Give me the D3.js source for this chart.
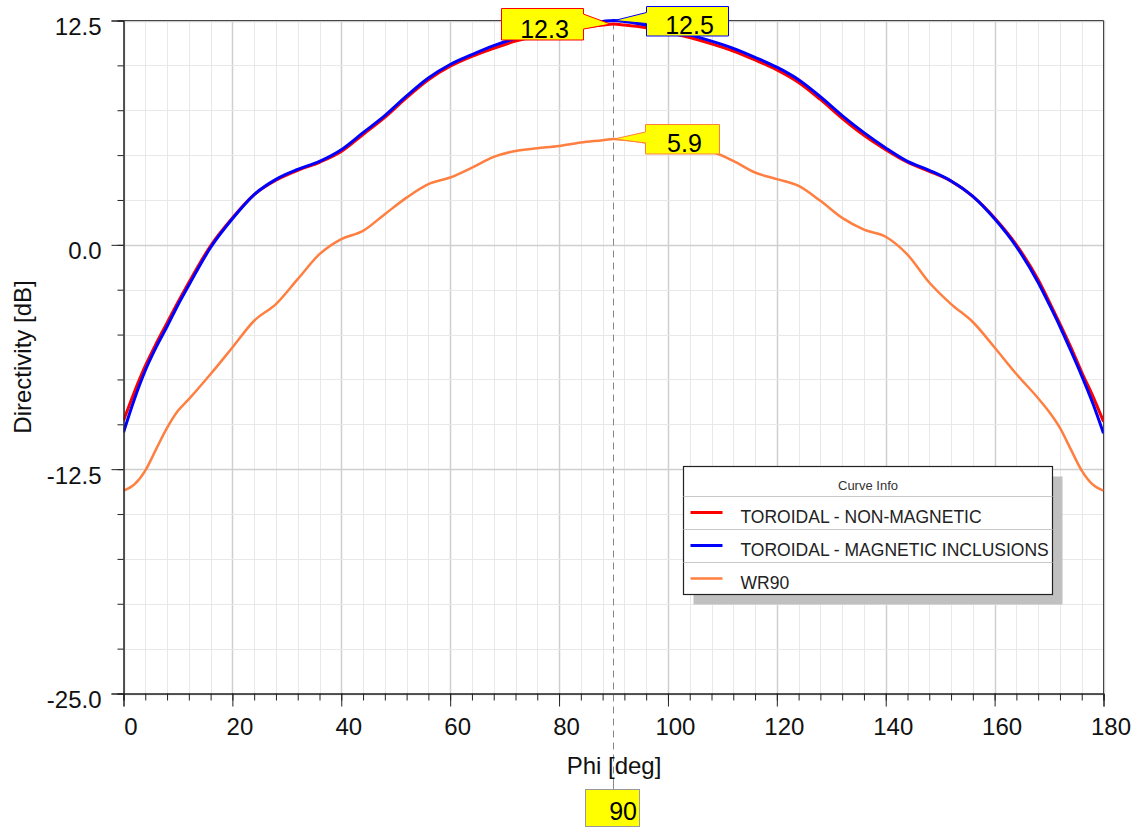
<!DOCTYPE html>
<html>
<head>
<meta charset="utf-8">
<script src="https://cdn.jsdelivr.net/npm/d3@7"></script>
<style>
  body { margin: 0; background: #fff; }
  svg { font-family: Arial, "Liberation Sans", sans-serif; }
</style>
</head>
<body>
<div id="chart"></div>
<script>
// data
const phi = [0, 2, 4, 6, 8, 10, 12, 16, 20, 24, 28, 32, 36, 40, 44, 48, 52, 56, 60, 64, 68, 72, 76, 80, 84, 88, 90,
  92, 96, 100, 104, 108, 112, 116, 120, 124, 128, 132, 136, 140, 144, 148, 152, 156, 160, 164, 168, 170, 172, 174, 176, 178, 180]

const nonMagnetic = [-9.8, -8.2, -6.75, -5.5, -4.35, -3.2, -2.1, -0.05, 1.5, 2.8, 3.6, 4.15, 4.6, 5.2, 6.15, 7.1, 8.2, 9.2, 9.95, 10.5, 10.95, 11.35, 11.65, 11.9, 12.1, 12.25, 12.3,
  12.25, 12.1, 11.85, 11.55, 11.2, 10.8, 10.3, 9.75, 9.05, 8.1, 7.05, 6.1, 5.3, 4.6, 4.1, 3.55, 2.7, 1.5, 0.0, -1.95, -3.15, -4.4, -5.7, -7.1, -8.4, -9.85]

const magnetic = [-10.45, -8.6, -7.0, -5.7, -4.55, -3.35, -2.25, -0.15, 1.45, 2.8, 3.65, 4.2, 4.65, 5.3, 6.25, 7.2, 8.3, 9.3, 10.05, 10.6, 11.1, 11.5, 11.8, 12.05, 12.3, 12.45, 12.5,
  12.45, 12.25, 12.0, 11.7, 11.35, 10.95, 10.45, 9.9, 9.2, 8.25, 7.2, 6.25, 5.4, 4.65, 4.15, 3.56, 2.7, 1.45, -0.1, -2.1, -3.3, -4.55, -5.9, -7.3, -8.8, -10.5]

const wr90 = [-13.7, -13.35, -12.58, -11.38, -10.2, -9.25, -8.6, -7.2, -5.72, -4.23, -3.3, -1.91, -0.52, 0.32, 0.78, 1.71, 2.63, 3.38, 3.75, 4.3, 4.9, 5.23, 5.38, 5.51, 5.7, 5.83, 5.9,
  5.85, 5.7, 5.5, 5.38, 5.2, 4.68, 4.03, 3.66, 3.28, 2.45, 1.5, 0.85, 0.45, -0.55, -2.1, -3.3, -4.3, -5.72, -7.2, -8.55, -9.3, -10.2, -11.4, -12.58, -13.35, -13.7]

const seriesNames = ["TOROIDAL - NON-MAGNETIC", "TOROIDAL - MAGNETIC INCLUSIONS", "WR90"]
const seriesColors = ["#ff0000", "#0000ff", "#ff7f40"]

const yMajorTicks = [12.5, 0, -12.5, -25]
const xMajorTicks = [0, 20, 40, 60, 80, 100, 120, 140, 160, 180]
const markerPhi = 90
const markerLabels = ["12.3", "12.5", "5.9"]

// dimensions
const W = 1146, H = 828
const plot = { left: 123.5, right: 1103.5, top: 20.5, bottom: 693.5 }

const svg = d3.select("#chart").append("svg")
  .attr("width", W)
  .attr("height", H)

const xScale = d3.scaleLinear().domain([0, 180]).range([plot.left, plot.right])
const yScale = d3.scaleLinear().domain([-25, 12.5]).range([plot.bottom, plot.top])

const xMinor = d3.range(0, 181, 4)
const yMinor = d3.range(-25, 12.6, 2.5)

// grid
const grid = svg.append("g")
grid.selectAll(".vx").data(xMinor).enter().append("line")
  .attr("x1", d => Math.round(xScale(d)) + 0.5).attr("x2", d => Math.round(xScale(d)) + 0.5)
  .attr("y1", plot.top).attr("y2", plot.bottom)
  .attr("stroke", d => d % 20 === 0 ? "#cfcfcf" : "#e8e8e8")
  .attr("stroke-width", d => d % 20 === 0 ? 1.5 : 1)
grid.selectAll(".hy").data(yMinor).enter().append("line")
  .attr("x1", plot.left).attr("x2", plot.right)
  .attr("y1", d => Math.round(yScale(d)) + 0.5).attr("y2", d => Math.round(yScale(d)) + 0.5)
  .attr("stroke", d => d % 12.5 === 0 ? "#cfcfcf" : "#e8e8e8")
  .attr("stroke-width", d => d % 12.5 === 0 ? 1.5 : 1)

// frame top/right
svg.append("line").attr("x1", plot.left).attr("x2", plot.right).attr("y1", plot.top).attr("y2", plot.top).attr("stroke", "#444")
svg.append("line").attr("x1", plot.right).attr("x2", plot.right).attr("y1", plot.top).attr("y2", plot.bottom).attr("stroke", "#444")

// clip
svg.append("clipPath").attr("id", "clip").append("rect")
  .attr("x", plot.left).attr("y", plot.top - 3)
  .attr("width", plot.right - plot.left).attr("height", plot.bottom - plot.top + 3)

// dashed marker line
svg.append("line")
  .attr("x1", xScale(markerPhi)).attr("x2", xScale(markerPhi))
  .attr("y1", plot.top + 2).attr("y2", 780)
  .attr("stroke", "#888").attr("stroke-dasharray", "7,5")
svg.append("line")
  .attr("x1", xScale(markerPhi)).attr("x2", xScale(markerPhi))
  .attr("y1", 780).attr("y2", 790)
  .attr("stroke", "#888")

// curves
const line = d3.line()
  .x((d, i) => xScale(phi[i]))
  .y(d => yScale(d))
  .curve(d3.curveMonotoneX)

const curves = svg.append("g").attr("clip-path", "url(#clip)")
const seriesData = [nonMagnetic, magnetic, wr90]
const drawOrder = [2, 0, 1]
drawOrder.forEach(k => {
  curves.append("path")
    .attr("d", line(seriesData[k]))
    .attr("fill", "none")
    .attr("stroke", seriesColors[k])
    .attr("stroke-width", k === 2 ? 2.5 : 3)
    .attr("stroke-linejoin", "round")
})

// axes
const fmtY = d => d3.format(".1f")(d).replace("\u2212", "-")
const yAxisMinor = d3.axisLeft(yScale).tickValues(yMinor).tickSize(6).tickFormat("")
const yAxis = d3.axisLeft(yScale).tickValues(yMajorTicks).tickSize(12).tickFormat(fmtY)
const xAxisMinor = d3.axisBottom(xScale).tickValues(xMinor).tickSize(7).tickFormat("")
const xAxis = d3.axisBottom(xScale).tickValues(xMajorTicks).tickSize(13).tickFormat(d3.format("d"))

function styleAxis(g) {
  g.select(".domain").attr("stroke", "#222")
  g.selectAll(".tick line").attr("stroke", "#222")
  g.selectAll("text").attr("fill", "#111").attr("font-size", 24)
}

svg.append("g").attr("transform", `translate(${plot.left},0)`).call(yAxisMinor).call(styleAxis)
svg.append("g").attr("transform", `translate(${plot.left},0)`).call(yAxis).call(styleAxis)
  .selectAll("text").attr("x", -22).attr("dy", null).attr("y", 14)
svg.append("g").attr("transform", `translate(0,${plot.bottom})`).call(xAxisMinor).call(styleAxis)
svg.append("g").attr("transform", `translate(0,${plot.bottom})`).call(xAxis).call(styleAxis)
  .selectAll("text").attr("dy", null).attr("y", 41).attr("x", 7)

// axis titles
svg.append("text")
  .attr("transform", `translate(31,${(plot.top + plot.bottom) / 2}) rotate(-90)`)
  .attr("text-anchor", "middle")
  .attr("font-size", 24).attr("fill", "#111")
  .text("Directivity [dB]")
svg.append("text")
  .attr("x", 614).attr("y", 774)
  .attr("text-anchor", "middle")
  .attr("font-size", 24).attr("fill", "#111")
  .text("Phi [deg]")

// callout markers
const markerValues = [nonMagnetic[phi.indexOf(markerPhi)], magnetic[phi.indexOf(markerPhi)], wr90[phi.indexOf(markerPhi)]]
// box: offsets relative to the tip, side of the tail
const callouts = [
  { side: "left-of", dx0: -110, dx1: -28, dy0: -16, dy1: 15, t0: -10, t1: 5 },
  { side: "right-of", dx0: 31, dx1: 113, dy0: -15, dy1: 14, t0: -8, t1: 3 },
  { side: "right-of", dx0: 30, dx1: 104, dy0: -15, dy1: 14, t0: -7, t1: 4 }
]

callouts.forEach((c, k) => {
  const tx = xScale(markerPhi) + (c.side === "left-of" ? -3 : 1)
  const ty = yScale(markerValues[k])
  const x0 = Math.round(tx + c.dx0) + 0.5, x1 = Math.round(tx + c.dx1) + 0.5
  const y0 = Math.max(Math.round(ty + c.dy0), 4) + 0.5, y1 = Math.round(y0 + (c.dy1 - c.dy0))
  let pts
  if (c.side === "left-of") {
    pts = [[x0, y0], [x1, y0], [x1, ty + c.t0], [tx, ty], [x1, ty + c.t1], [x1, y1], [x0, y1]]
  } else {
    pts = [[x0, y0], [x1, y0], [x1, y1], [x0, y1], [x0, ty + c.t1], [tx, ty], [x0, ty + c.t0]]
  }
  svg.append("path")
    .attr("d", d3.line()(pts) + "Z")
    .attr("fill", "#ffff00")
    .attr("stroke", seriesColors[k])
    .attr("stroke-width", 1)
  svg.append("text")
    .attr("x", (x0 + x1) / 2 + 2).attr("y", y1 - 2)
    .attr("text-anchor", "middle")
    .attr("font-size", 25).attr("fill", "#000")
    .text(markerLabels[k])
})

// x marker box
svg.append("rect")
  .attr("x", 585.5).attr("y", 789.5).attr("width", 54).attr("height", 37)
  .attr("fill", "#ffff00").attr("stroke", "#999")
svg.append("text")
  .attr("x", 637).attr("y", 820)
  .attr("text-anchor", "end")
  .attr("font-size", 25).attr("fill", "#000")
  .text(markerPhi)

// legend
const lg = { x: 683.5, y: 466.5, w: 369, h: 128, head: 29, row: 33 }
svg.append("rect")
  .attr("x", lg.x + 10).attr("y", lg.y + 10).attr("width", lg.w).attr("height", lg.h)
  .attr("fill", "#c0c0c0")
svg.append("rect")
  .attr("x", lg.x).attr("y", lg.y).attr("width", lg.w).attr("height", lg.h)
  .attr("fill", "#fff").attr("stroke", "#222").attr("stroke-width", 1.2)
svg.append("text")
  .attr("x", lg.x + lg.w / 2).attr("y", lg.y + 23)
  .attr("text-anchor", "middle").attr("font-size", 13).attr("fill", "#333")
  .text("Curve Info")
seriesNames.forEach((name, i) => {
  const top = lg.y + lg.head + i * lg.row
  svg.append("line")
    .attr("x1", lg.x).attr("x2", lg.x + lg.w)
    .attr("y1", Math.round(top) + 0.5).attr("y2", Math.round(top) + 0.5)
    .attr("stroke", "#c8c8c8")
  svg.append("line")
    .attr("x1", lg.x + 7).attr("x2", lg.x + 39)
    .attr("y1", top + 17).attr("y2", top + 17)
    .attr("stroke", seriesColors[i]).attr("stroke-width", i === 2 ? 2.5 : 3)
  svg.append("text")
    .attr("x", lg.x + 57).attr("y", top + 27)
    .attr("font-size", 17.5).attr("fill", "#222")
    .text(name)
})
</script>
</body>
</html>
